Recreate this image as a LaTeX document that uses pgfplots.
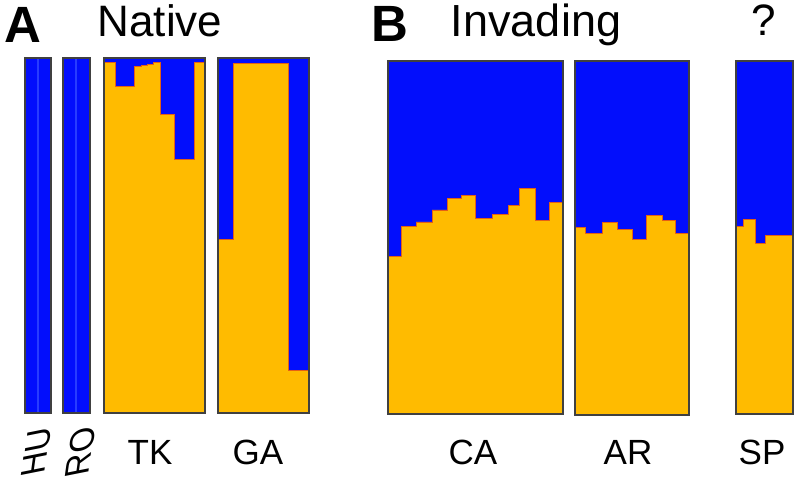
\documentclass[border=0pt]{standalone}
\usepackage{pgfplots}
\pgfplotsset{compat=1.18}
\usepackage{fontspec}
\setmainfont{Liberation Sans}
\newfontfamily\revslant[FakeSlant=-0.35]{Liberation Sans}
\definecolor{qblue}{RGB}{2,14,252}
\definecolor{qorange}{RGB}{255,187,0}
\definecolor{qedge}{RGB}{228,96,20}
\definecolor{qframe}{RGB}{64,64,64}
\definecolor{qstripe}{RGB}{40,60,255}
\pgfplotsset{
  panel/.style={
    scale only axis, anchor=south west,
    ymin=0, ymax=1, ticks=none,
    axis on top,
    axis line style={draw=qframe, line width=2pt},
    stack plots=y, area style, const plot,
  },
  orangeQ/.style={fill=qorange, draw=qedge, line width=0.9pt},
  blueQ/.style={fill=qblue, draw=none},
}
\begin{document}
\begin{tikzpicture}[x=1pt,y=1pt]
\path[use as bounding box] (0,0) rectangle (797,481);

% HU
\begin{axis}[panel, at={(25pt,68pt)}, width=26pt, height=355pt, xmin=25, xmax=51]
\addplot[orangeQ, draw=none] coordinates {(25,0) (51,0)} \closedcycle;
\addplot[blueQ] coordinates {(25,1) (51,1)} \closedcycle;
\end{axis}
\draw[qstripe, line width=2.5pt] (38,69) -- (38,422);
% RO
\begin{axis}[panel, at={(63pt,68pt)}, width=27pt, height=355pt, xmin=63, xmax=90]
\addplot[orangeQ, draw=none] coordinates {(63,0) (90,0)} \closedcycle;
\addplot[blueQ] coordinates {(63,1) (90,1)} \closedcycle;
\end{axis}
\draw[qstripe, line width=2.5pt] (76,69) -- (76,422);
% TK
\begin{axis}[panel, at={(104pt,68pt)}, width=101pt, height=355pt, xmin=104, xmax=205]
\addplot[orangeQ] coordinates {(104,0.987) (115,0.92) (134,0.975) (141,0.979) (147,0.983) (153,0.987) (160,0.84) (174,0.714) (194,0.987) (205,0.987)} \closedcycle;
\addplot[blueQ] coordinates {(104,0.013) (115,0.08) (134,0.025) (141,0.021) (147,0.017) (153,0.013) (160,0.16) (174,0.286) (194,0.013) (205,0.013)} \closedcycle;
\end{axis}
% GA
\begin{axis}[panel, at={(218pt,68pt)}, width=91pt, height=355pt, xmin=218, xmax=309]
\addplot[orangeQ] coordinates {(218,0.49) (233,0.985) (288,0.12) (309,0.12)} \closedcycle;
\addplot[blueQ] coordinates {(218,0.51) (233,0.015) (288,0.88) (309,0.88)} \closedcycle;
\end{axis}
% CA
\begin{axis}[panel, at={(388pt,67pt)}, width=175pt, height=353pt, xmin=388, xmax=563]
\addplot[orangeQ] coordinates {(388,0.445) (401,0.53) (416,0.544) (432,0.578) (447,0.61) (461,0.62) (475,0.555) (492,0.564) (508,0.592) (519,0.64) (535,0.547) (549,0.598) (563,0.598)} \closedcycle;
\addplot[blueQ] coordinates {(388,0.555) (401,0.47) (416,0.456) (432,0.422) (447,0.39) (461,0.38) (475,0.445) (492,0.436) (508,0.408) (519,0.36) (535,0.453) (549,0.402) (563,0.402)} \closedcycle;
\end{axis}
% AR
\begin{axis}[panel, at={(575pt,66pt)}, width=114pt, height=354pt, xmin=575, xmax=689]
\addplot[orangeQ] coordinates {(575,0.53) (585,0.513) (602,0.544) (617,0.524) (632,0.496) (646,0.564) (662,0.55) (675,0.513) (689,0.513)} \closedcycle;
\addplot[blueQ] coordinates {(575,0.47) (585,0.487) (602,0.456) (617,0.476) (632,0.504) (646,0.436) (662,0.45) (675,0.487) (689,0.487)} \closedcycle;
\end{axis}
% SP
\begin{axis}[panel, at={(736pt,67pt)}, width=57pt, height=353pt, xmin=736, xmax=793]
\addplot[orangeQ] coordinates {(736,0.53) (743,0.552) (755,0.484) (765,0.507) (793,0.507)} \closedcycle;
\addplot[blueQ] coordinates {(736,0.47) (743,0.448) (755,0.516) (765,0.493) (793,0.493)} \closedcycle;
\end{axis}

% titles
\node[anchor=base west, inner sep=0pt, font=\fontsize{51}{54}\selectfont\bfseries] at (4,438) {A};
\node[anchor=base, inner sep=0pt, font=\fontsize{44}{48}\selectfont] at (160,444) {Native};
\node[anchor=base west, inner sep=0pt, font=\fontsize{51}{54}\selectfont\bfseries] at (371,439) {B};
\node[anchor=base, inner sep=0pt, font=\fontsize{45}{48}\selectfont] at (536,444) {Invading};
\node[anchor=base, inner sep=0pt, font=\fontsize{44}{48}\selectfont] at (764,445) {?};

% bottom labels
\foreach \lab/\xx in {TK/150, GA/258, CA/473, AR/628, SP/762}{
  \node[anchor=base, inner sep=0pt, font=\fontsize{35}{38}\selectfont] at (\xx,16) {\lab};
}
\node[rotate=82, inner sep=0pt, font=\fontsize{33}{36}\selectfont\revslant] at (37,33) {HU};
\node[rotate=82, inner sep=0pt, font=\fontsize{33}{36}\selectfont\revslant] at (81,33) {RO};
\end{tikzpicture}
\end{document}
